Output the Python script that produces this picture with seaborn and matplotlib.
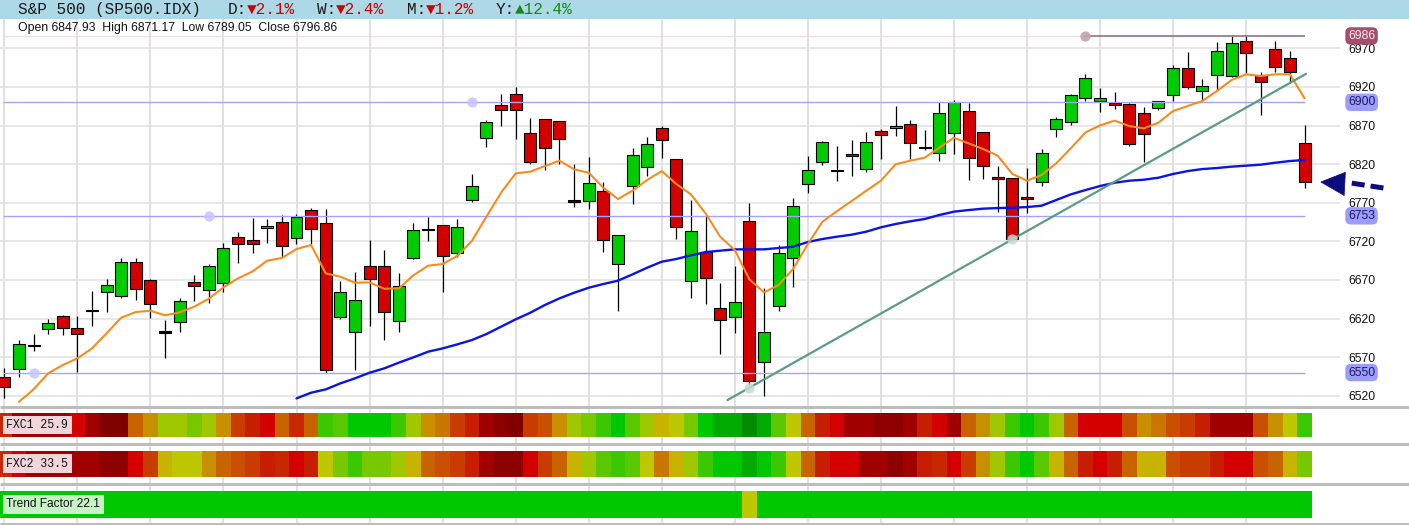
import numpy as np
import matplotlib
matplotlib.use("Agg")
import matplotlib.pyplot as plt
import matplotlib.transforms as mtransforms
from matplotlib.colors import ListedColormap
from matplotlib.patches import Polygon
import seaborn as sns

# ---------------- data ----------------
opens = [6543.8, 6554.1, 6585.5, 6605.9, 6622.8, 6607.2, 6630.1, 6653.9, 6649.6, 6692.7,
         6669.4, 6602.5, 6615.0, 6666.8, 6656.9, 6665.5, 6725.1, 6721.2, 6736.8, 6744.6,
         6723.8, 6760.1, 6743.3, 6622.4, 6602.9, 6687.6, 6687.6, 6617.2, 6698.8, 6735.5,
         6740.7, 6704.4, 6773.0, 6853.4, 6896.1, 6910.8, 6859.8, 6878.0, 6875.4, 6772.2,
         6771.8, 6785.2, 6690.2, 6791.6, 6815.8, 6866.3, 6826.2, 6668.1, 6706.6, 6633.2,
         6621.5, 6745.9, 6563.2, 6636.6, 6697.9, 6793.8, 6822.3, 6811.9, 6832.6, 6813.2,
         6862.4, 6866.3, 6871.5, 6841.3, 6833.9, 6859.8, 6888.8, 6861.1, 6802.8, 6801.5,
         6776.9, 6797.2, 6865.0, 6874.1, 6905.2, 6901.3, 6899.1, 6897.8, 6885.7, 6892.2,
         6909.1, 6944.0, 6914.2, 6935.0, 6934.5, 6979.5, 6935.4, 6968.7, 6957.0, 6847.93]
highs = [6555.4, 6592.1, 6599.5, 6618.9, 6624.1, 6622.8, 6655.6, 6671.2, 6697.9, 6697.9,
         6670.7, 6617.6, 6646.5, 6676.3, 6690.6, 6717.8, 6732.0, 6750.2, 6748.9, 6754.5,
         6755.4, 6762.7, 6761.8, 6668.1, 6679.8, 6721.7, 6708.7, 6678.5, 6743.7, 6751.5,
         6741.5, 6748.9, 6807.2, 6877.1, 6910.8, 6919.4, 6879.7, 6878.5, 6875.9, 6819.7,
         6829.2, 6796.8, 6728.2, 6840.9, 6854.7, 6869.3, 6826.7, 6773.0, 6754.1, 6666.0,
         6688.0, 6769.6, 6659.1, 6715.2, 6776.1, 6830.0, 6850.4, 6843.0, 6851.2, 6861.1,
         6865.0, 6895.2, 6877.1, 6864.2, 6900.0, 6903.0, 6899.6, 6861.6, 6817.5, 6802.0,
         6814.9, 6839.5, 6880.6, 6910.8, 6936.7, 6918.6, 6913.4, 6899.6, 6893.5, 6902.2,
         6948.4, 6965.2, 6930.2, 6977.7, 6985.9, 6985.9, 6939.7, 6979.5, 6966.5, 6871.17]
lows = [6516.5, 6544.6, 6578.3, 6599.9, 6599.0, 6551.1, 6610.7, 6628.8, 6647.0, 6644.4,
        6620.2, 6568.4, 6602.9, 6643.1, 6639.6, 6654.7, 6692.3, 6705.3, 6717.4, 6699.2,
        6716.5, 6716.5, 6549.8, 6619.8, 6553.3, 6610.3, 6592.1, 6602.5, 6697.5, 6720.4,
        6654.8, 6700.1, 6770.9, 6842.6, 6869.8, 6852.1, 6819.7, 6812.4, 6819.7, 6764.9,
        6762.3, 6706.6, 6630.1, 6768.7, 6804.6, 6828.3, 6723.4, 6646.1, 6638.3, 6574.4,
        6601.6, 6533.9, 6520.0, 6630.1, 6661.2, 6783.0, 6818.4, 6798.5, 6804.6, 6809.3,
        6826.2, 6856.8, 6826.6, 6838.3, 6824.4, 6833.1, 6799.4, 6801.1, 6758.4, 6721.7,
        6757.1, 6792.1, 6855.1, 6870.6, 6902.2, 6887.9, 6891.8, 6843.9, 6823.1, 6890.1,
        6902.2, 6917.7, 6902.2, 6916.0, 6933.2, 6937.6, 6883.6, 6939.7, 6924.6, 6789.05]
closes = [6531.7, 6586.5, 6585.0, 6613.7, 6607.2, 6599.5, 6630.1, 6662.9, 6692.7, 6657.8,
          6638.3, 6602.5, 6642.2, 6661.7, 6687.6, 6710.9, 6716.1, 6716.1, 6739.4, 6714.3,
          6751.9, 6735.5, 6552.8, 6653.9, 6644.0, 6671.6, 6628.8, 6662.5, 6734.2, 6735.5,
          6700.5, 6738.1, 6791.2, 6874.1, 6890.5, 6890.5, 6823.1, 6840.4, 6852.1, 6772.2,
          6795.1, 6721.2, 6727.7, 6831.4, 6845.6, 6850.8, 6738.1, 6732.9, 6672.0, 6617.6,
          6640.9, 6538.6, 6602.1, 6704.4, 6765.3, 6811.9, 6848.2, 6811.9, 6830.0, 6848.2,
          6857.2, 6868.9, 6846.9, 6841.3, 6885.7, 6900.0, 6827.5, 6817.1, 6800.3, 6722.5,
          6774.3, 6833.9, 6878.0, 6909.1, 6931.1, 6905.2, 6896.1, 6845.6, 6858.5, 6901.7,
          6944.0, 6920.3, 6921.2, 6966.1, 6976.4, 6963.5, 6926.8, 6945.3, 6939.7, 6796.86]

ma_fast = [np.nan, 6512.0, 6528.2, 6549.0, 6559.7, 6568.4, 6581.3, 6600.8, 6621.1, 6628.4,
           6630.1, 6624.1, 6628.0, 6635.3, 6645.7, 6660.4, 6672.0, 6681.1, 6694.9, 6698.4,
           6710.0, 6715.2, 6678.5, 6674.2, 6666.4, 6666.8, 6658.6, 6659.0, 6675.9, 6688.4,
           6690.6, 6701.0, 6720.4, 6751.9, 6783.0, 6808.0, 6810.2, 6817.5, 6824.4, 6813.2,
           6808.9, 6789.5, 6774.8, 6785.6, 6799.4, 6811.0, 6794.2, 6780.8, 6756.2, 6726.0,
           6708.7, 6670.7, 6653.9, 6663.4, 6684.5, 6716.5, 6745.4, 6759.2, 6772.2, 6785.6,
           6798.5, 6819.7, 6824.4, 6828.3, 6841.3, 6854.2, 6846.9, 6839.5, 6830.9, 6807.2,
           6798.5, 6805.9, 6821.0, 6840.4, 6861.1, 6870.2, 6876.3, 6869.3, 6866.3, 6873.7,
           6888.8, 6895.3, 6901.7, 6914.7, 6928.9, 6936.3, 6934.1, 6936.3, 6936.3, 6905.2]
ma_slow = [np.nan] * 20 + [
           6516.6, 6523.9, 6528.2, 6536.0, 6542.5, 6549.8, 6555.4, 6562.8, 6569.7, 6577.0,
           6581.3, 6586.5, 6592.1, 6599.9, 6609.4, 6618.9, 6627.5, 6637.5, 6646.1, 6653.4,
           6659.9, 6664.7, 6669.0, 6677.2, 6685.8, 6693.6, 6697.1, 6701.8, 6706.1, 6707.9,
           6709.6, 6709.6, 6709.6, 6711.3, 6713.0, 6719.1, 6723.0, 6726.0, 6728.6, 6732.5,
           6738.1, 6742.4, 6745.9, 6748.9, 6754.1, 6758.4, 6760.5, 6762.3, 6763.1, 6763.5,
           6764.4, 6766.1, 6773.5, 6780.8, 6786.4, 6791.6, 6795.9, 6798.5, 6799.8, 6802.4,
           6807.2, 6811.0, 6813.6, 6814.9, 6816.7, 6818.0, 6819.3, 6821.8, 6824.0, 6825.3]

# horizontal support levels and the bar where each was anchored
support_levels = [6550, 6753, 6900]
support_anchor = [2, 14, 32]
high_level = 6986
high_anchor = 74
# trend line points (bar index, price)
trend_x = [49.5, 51, 69, 89.1]
trend_y = [6514.4, 6530.4, 6722.6, 6936.9]
trend_anchor_x = [51, 69]
trend_anchor_y = [6530.4, 6722.6]

yticks = list(range(6520, 6971, 50))

# heat-strip colour levels (0 = dark green ... 19 = dark red)
level_colors = ['#008c00', '#00aa00', '#00c800', '#3cc800', '#5ac800', '#78c800', '#a0c800',
                '#bec800', '#c8b400', '#c89000', '#c87800', '#c86400', '#c85000', '#c83c00',
                '#c82800', '#c81e00', '#d40000', '#a00000', '#8c0000', '#800000']
fxc1 = [14, 17, 17, 17, 17, 16, 17, 19, 19, 11, 9, 6, 6, 5, 6, 9, 13, 15, 16, 11,
        14, 11, 3, 4, 2, 2, 2, 3, 6, 9, 10, 13, 15, 17, 18, 19, 13, 12, 9, 6,
        5, 3, 2, 4, 6, 8, 7, 5, 2, 1, 1, 0, 1, 4, 7, 11, 15, 16, 17, 17,
        18, 18, 17, 15, 16, 17, 11, 9, 6, 3, 2, 3, 6, 11, 16, 16, 16, 12, 9, 10,
        12, 13, 15, 17, 17, 17, 12, 9, 7, 3]
fxc2 = [14, 16, 17, 17, 17, 17, 17, 18, 18, 16, 13, 8, 7, 7, 9, 11, 12, 13, 15, 14,
        16, 15, 7, 5, 3, 5, 5, 6, 8, 11, 12, 13, 15, 17, 18, 18, 16, 13, 11, 8,
        6, 4, 3, 4, 7, 10, 8, 6, 3, 2, 2, 1, 2, 3, 7, 11, 15, 16, 16, 17,
        17, 18, 17, 15, 14, 16, 13, 9, 6, 3, 2, 4, 8, 11, 15, 16, 15, 11, 8, 8,
        12, 13, 13, 15, 16, 16, 12, 11, 8, 5]
trend_factor = [2] * 51 + [7] + [2] * 38

fxc1_label = "FXC1 25.9"
fxc2_label = "FXC2 33.5"
trend_label = "Trend Factor 22.1"
symbol = "S&P 500 (SP500.IDX)"
changes = [("D:", "\u25bc2.1%", "#cc0000"), ("W:", "\u25bc2.4%", "#cc0000"),
           ("M:", "\u25bc1.2%", "#cc0000"), ("Y:", "\u25b212.4%", "#108a10")]

# ---------------- styling / layout ----------------
sns.set_theme(style="white")
plt.rcParams['font.family'] = ['Liberation Sans', 'DejaVu Sans']
MONO = ['Liberation Mono', 'DejaVu Sans Mono']

W, H = 1409, 525
fig = plt.figure(figsize=(W / 100, H / 100), dpi=100)
fig.patch.set_facecolor('white')

STEP, X0 = 14.61, 4.3           # pixel spacing of bars, pixel x of bar 0
MAIN_R, MAIN_T, MAIN_B = 1340, 19, 406


def fx(px):
    return px / W


def fy(py):
    return 1 - py / H


def bar_at(px):
    return (px - X0) / STEP


n = len(closes)
x = np.arange(n)

# background: title bar, vertical week grid, panel separators
ax_bg = fig.add_axes([0, 0, 1, 1])
ax_bg.set_xlim(bar_at(0), bar_at(W))
ax_bg.set_ylim(H, 0)
ax_bg.axis('off')
ax_bg.axhspan(0, MAIN_T, color='#add8e6', lw=0)
ax_bg.vlines(np.arange(0, n, 5), MAIN_T, H, colors='#dcdcdc', lw=1.2, zorder=1)
ax_bg.hlines([407, 443.7, 484, 524], bar_at(0), bar_at(W), colors='#bdbdbd', lw=2.2, zorder=2)

# main price panel
ax = fig.add_axes([0, fy(MAIN_B), fx(MAIN_R), (MAIN_B - MAIN_T) / H])
ax.set_facecolor('none')
ax.set_xlim(bar_at(0), bar_at(MAIN_R))
ax.set_ylim(6506.7, 7007.95)
ax.set_axisbelow(True)
ax.yaxis.tick_right()
ax.set_yticks(yticks)
ax.set_yticklabels([str(v) for v in yticks])
ax.tick_params(axis='y', length=0, pad=5.8, labelsize=8.8, labelcolor='#111111')
ax.tick_params(axis='x', length=0, labelbottom=False)
ax.grid(axis='y', color='#e0e0e0', lw=1.1)
ax.grid(axis='x', visible=False)
for s in ax.spines.values():
    s.set_visible(False)

o = np.array(opens); c = np.array(closes); hi = np.array(highs); lo = np.array(lows)
doji = np.abs(c - o) < 1
body_h = np.where(doji, 1.6, np.abs(c - o))
body_b = np.where(doji, (o + c) / 2 - 0.8, np.minimum(o, c))
body_col = np.where(doji, '#000000', np.where(c > o, '#00cc00', '#d40000'))

ax.vlines(x, lo, hi, color='black', lw=0.9, zorder=2.5)
ax.bar(x, body_h, bottom=body_b, width=0.82, color=body_col, edgecolor='black',
       linewidth=0.8, zorder=3)

# support / resistance lines
ax.hlines(support_levels, bar_at(3), n - 1, colors='#a4a4ff', lw=1.0, zorder=4)
ax.scatter(support_anchor, support_levels, s=55, color='#c4c4ff', alpha=0.85, lw=0, zorder=4)
ax.hlines([high_level], bar_at(3), high_anchor, colors='#f2dde2', lw=1.0, zorder=4)
ax.hlines([high_level], high_anchor, n - 1, colors='#8e6272', lw=1.1, zorder=4)
ax.scatter([high_anchor], [high_level], s=55, color='#c4a4ae', alpha=0.9, lw=0, zorder=4)

# moving averages and trend line
sns.lineplot(x=x, y=ma_slow, ax=ax, color='#0a14e6', lw=1.7, zorder=5)
sns.lineplot(x=x, y=ma_fast, ax=ax, color='#f78c1e', lw=1.5, zorder=5)
sns.lineplot(x=trend_x, y=trend_y, ax=ax, color='#5b9c86', lw=1.6, zorder=5, sort=False)
ax.scatter(trend_anchor_x, trend_anchor_y, s=55, color='#c4dcd2', alpha=0.85, lw=0, zorder=5)
ax.set_xlabel('')
ax.set_ylabel('')

# boxed price labels on the right scale
trans = mtransforms.blended_transform_factory(ax.transAxes, ax.transData)
box_specs = [(high_level, '#a34e6c', '#f6e8f0')] + [(v, '#9c9cff', '#1c1c5a') for v in support_levels]
for val, fc, tc in box_specs:
    ax.text(1348 / MAIN_R, val, str(val), transform=trans, ha='left', va='center',
            fontsize=8.8, color=tc, zorder=7, clip_on=False,
            bbox=dict(boxstyle='round,pad=0.22,rounding_size=0.45', fc=fc, ec='none'))

# arrow pointing at the last close
tip_x, tip_y = n - 1 + 1.11, closes[-1]
head = Polygon([[tip_x, tip_y], [tip_x + 1.68, tip_y + 12.5], [tip_x + 1.6, tip_y - 17.5]],
               closed=True, fc='#0c0c7c', ec='#0c0c7c', lw=0.5, clip_on=False, zorder=8)
ax.add_patch(head)
ax.plot([tip_x + 2.12, tip_x + 4.52], [tip_y - 1.5, tip_y - 8.5], color='#0c0c7c', lw=3.6,
        ls=(0, (2.6, 1.2)), solid_capstyle='butt', dash_capstyle='butt', clip_on=False, zorder=8)

# heat strips
cmap = ListedColormap(level_colors)


def strip(top, bottom, values, label, fam, fsize, box_fc):
    axb = fig.add_axes([0, fy(bottom), fx(MAIN_R), (bottom - top) / H])
    sns.heatmap(np.array([values]), ax=axb, cmap=cmap, vmin=-0.5, vmax=len(level_colors) - 0.5,
                cbar=False, xticklabels=False, yticklabels=False, linewidths=0)
    axb.set_xlim(bar_at(0) + 0.5, bar_at(MAIN_R) + 0.5)
    axb.set_ylim(1, 0)
    axb.axis('off')
    axb.text(6.5 / MAIN_R, 0.5, label, transform=axb.transAxes, ha='left', va='center',
             family=fam, fontsize=fsize, color='#111111', zorder=5,
             bbox=dict(boxstyle='square,pad=0.28', fc=box_fc, ec='none'))


strip(413, 436.7, fxc1, fxc1_label, MONO, 8.3, '#f0d6da')
strip(450.7, 476.7, fxc2, fxc2_label, MONO, 8.3, '#f0d6da')
strip(491, 517.7, trend_factor, trend_label, ['Liberation Sans', 'DejaVu Sans'], 8.6, '#c6f2c6')

# header texts
fig.text(fx(18), fy(9.5), symbol, ha='left', va='center', family=MONO, fontsize=11.6,
         color='#1a1a1a')
cw = 9.67
for (lab, val, col), px in zip(changes, [228, 317, 407, 496]):
    fig.text(fx(px), fy(9.5), lab, ha='left', va='center', family=MONO, fontsize=11.6,
             color='#1a1a1a')
    fig.text(fx(px + 2 * cw), fy(9.5), val, ha='left', va='center', family=MONO,
             fontsize=11.6, color=col)

ohlc_text = (f"Open {opens[-1]:.2f}  High {highs[-1]:.2f}  "
             f"Low {lows[-1]:.2f}  Close {closes[-1]:.2f}")
fig.text(fx(18), fy(27.5), ohlc_text, ha='left', va='center', fontsize=8.8, color='#111111')

fig.savefig('out.png', dpi=100, facecolor='white')
